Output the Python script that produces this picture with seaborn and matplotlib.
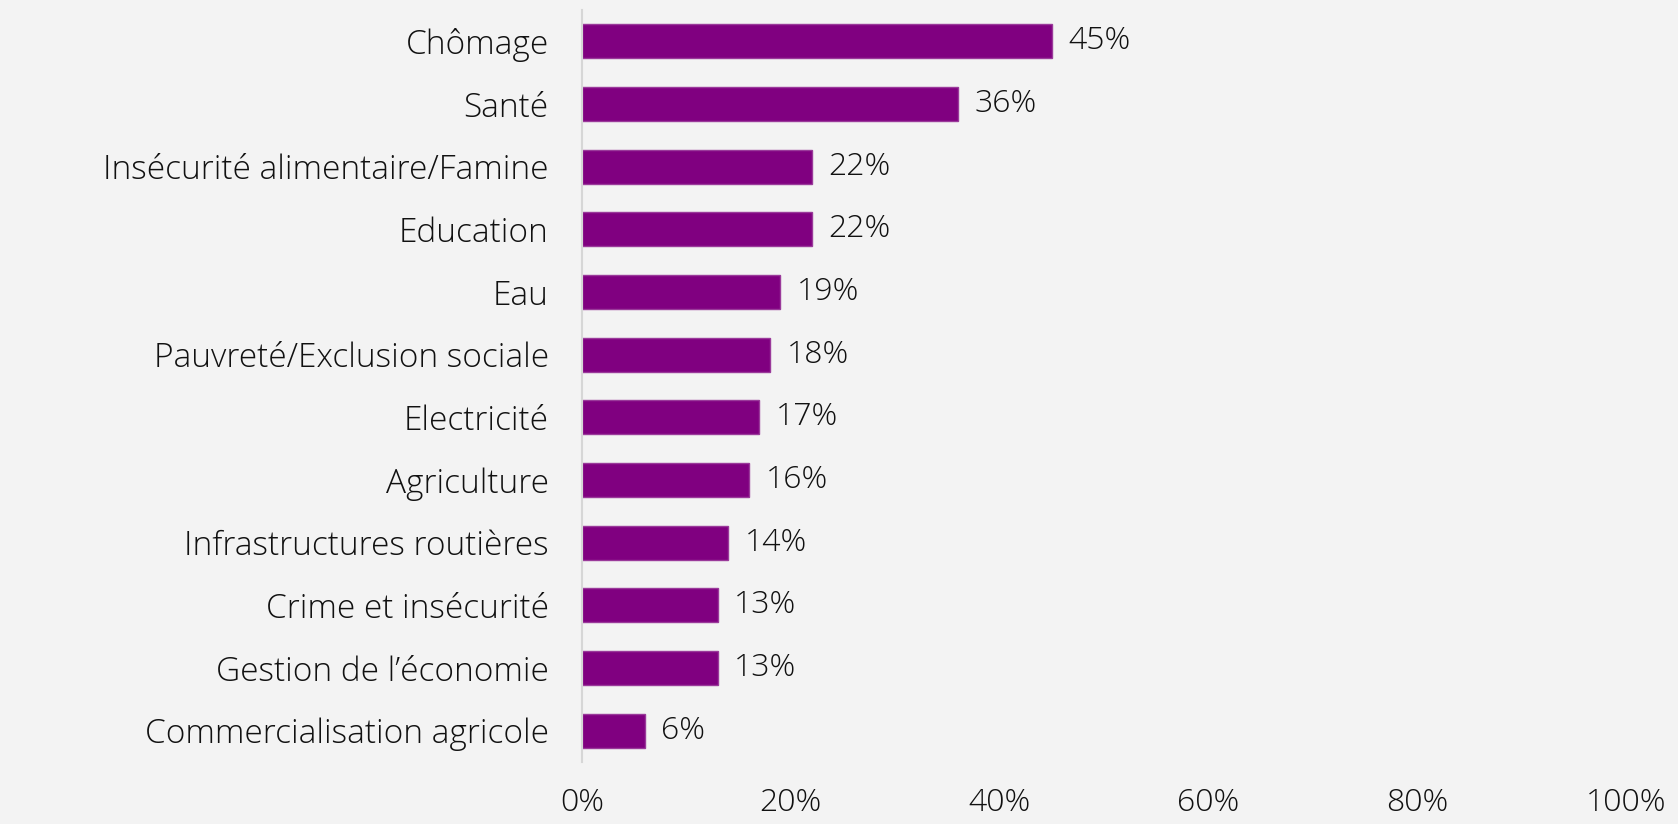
import matplotlib
matplotlib.use("Agg")
import matplotlib.pyplot as plt
import seaborn as sns
import pandas as pd

# Données
categories = [
    "Chômage",
    "Santé",
    "Insécurité alimentaire/Famine",
    "Education",
    "Eau",
    "Pauvreté/Exclusion sociale",
    "Electricité",
    "Agriculture",
    "Infrastructures routières",
    "Crime et insécurité",
    "Gestion de l’économie",
    "Commercialisation agricole",
]
values = [45, 36, 22, 22, 19, 18, 17, 16, 14, 13, 13, 6]
x_ticks = [0, 20, 40, 60, 80, 100]

BG = "#f3f3f3"
PURPLE = "#800080"
TXT = "#111111"
FONT = 23

sns.set_theme(style="white")
plt.rcParams["font.family"] = ["Open Sans", "DejaVu Sans"]
plt.rcParams["font.weight"] = "light"

df = pd.DataFrame({"categorie": categories, "valeur": values})

fig = plt.figure(figsize=(16.78, 8.24), dpi=100, facecolor=BG)
ax = fig.add_axes([582 / 1678, 1 - 762 / 824, (1626 - 582) / 1678, (762 - 10) / 824])
ax.set_facecolor(BG)

sns.barplot(data=df, x="valeur", y="categorie", orient="h",
            color=PURPLE, edgecolor="#9a3a9a", linewidth=1,
            width=0.54, saturation=1, ax=ax)

# étiquettes de valeur à droite des barres
ax.bar_label(ax.containers[0], labels=[f"{v}%" for v in values],
             padding=12, fontsize=FONT, color=TXT)

ax.set_xlim(0, 100)
ax.set_ylim(len(categories) - 0.5, -0.5)
ax.set_xticks(x_ticks)
ax.set_xticklabels([f"{t}%" for t in x_ticks])
ax.set_xlabel("")
ax.set_ylabel("")

ax.tick_params(axis="y", length=0, pad=24, labelsize=24, labelcolor=TXT)
ax.tick_params(axis="x", length=0, pad=18, labelsize=FONT, labelcolor=TXT)

for side in ["top", "right", "bottom"]:
    ax.spines[side].set_visible(False)
ax.spines["left"].set_color("#d6d6d6")
ax.spines["left"].set_linewidth(1.5)

fig.savefig("out.png", dpi=100, facecolor=BG)
